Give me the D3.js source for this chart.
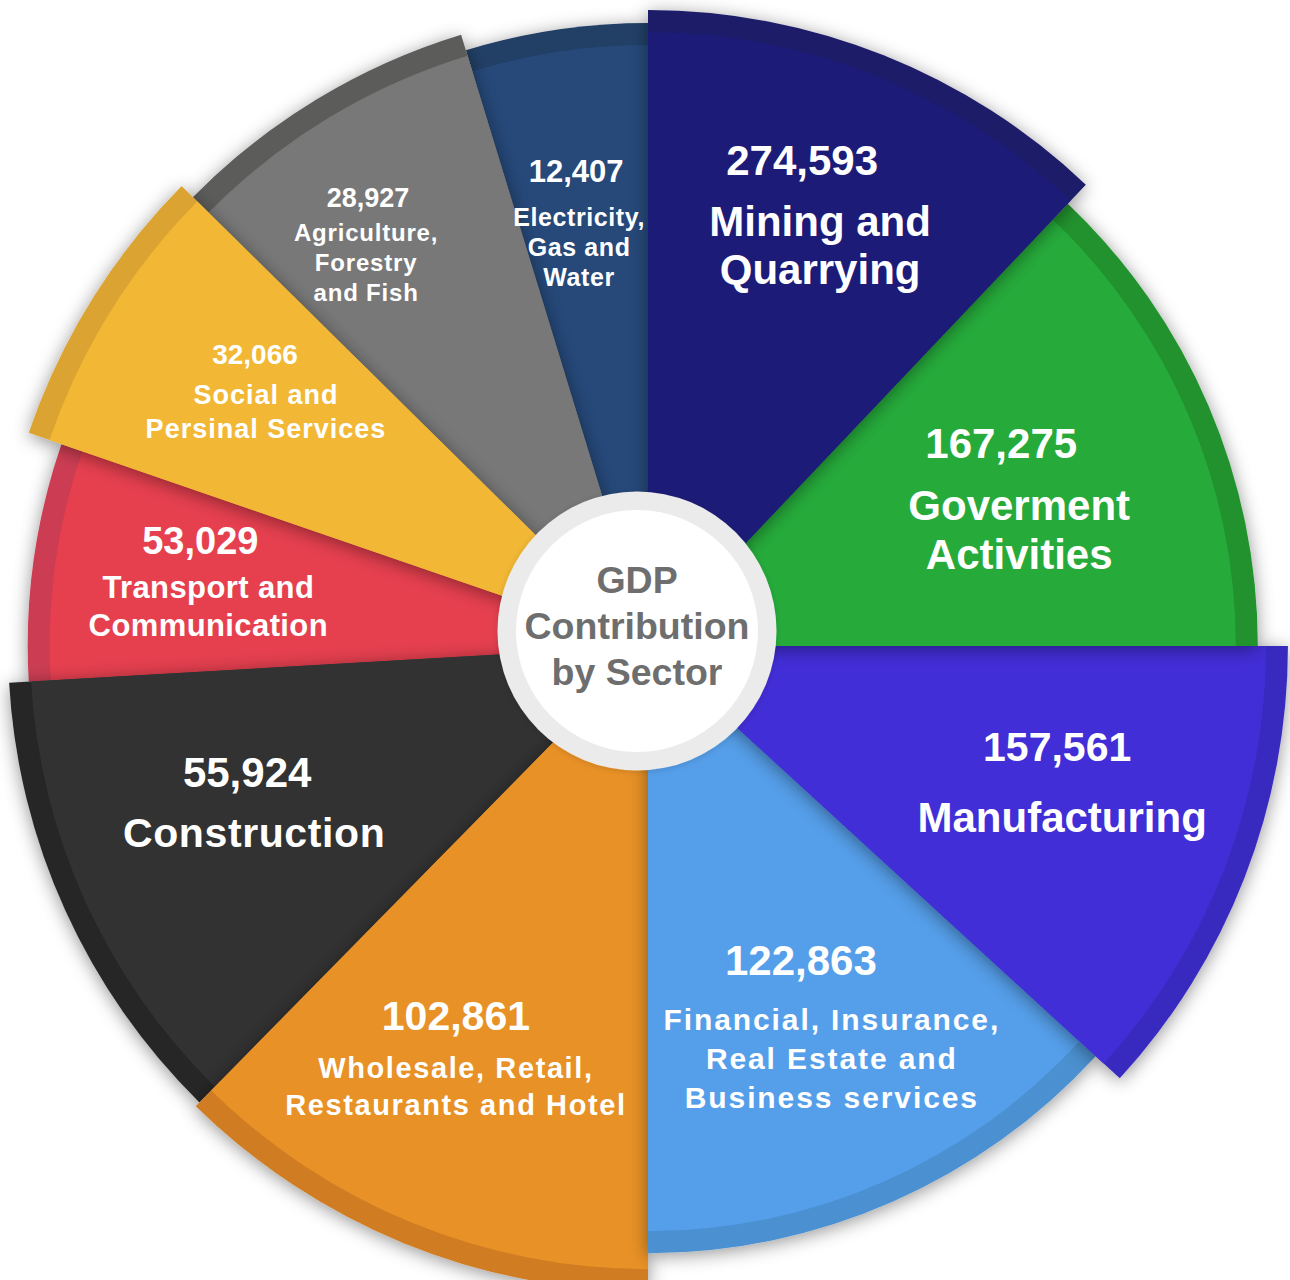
<!DOCTYPE html>
<html>
<head>
<meta charset="utf-8">
<script src="https://cdn.jsdelivr.net/npm/d3@7"></script>
<style>
  html, body { margin: 0; padding: 0; background: #ffffff; }
  svg { display: block; }
</style>
</head>
<body>
<svg id="chart" width="1290" height="1280"></svg>
<script>
// ---- data ----
const sectors = [
  "Mining and Quarrying",
  "Goverment Activities",
  "Manufacturing",
  "Financial, Insurance, Real Estate and Business services",
  "Wholesale, Retail, Restaurants and Hotel",
  "Construction",
  "Transport and Communication",
  "Social and Persinal Services",
  "Agriculture, Forestry and Fish",
  "Electricity, Gas and Water"
];
const gdpValues = [274593, 167275, 157561, 122863, 102861, 55924, 53029, 32066, 28927, 12407];
// angular share of each wedge, in degrees of the full turn
const arcDegrees = [43.5, 46.5, 42.5, 47.5, 44.5, 42.2, 22.3, 25.6, 28.4, 17];
// relative outer reach of each wedge (1 = longest wedge)
const reach = [0.971, 0.931, 0.977, 0.927, 0.985, 0.977, 0.947, 1.0, 0.976, 0.951];
const nameLines = [
  ["Mining and", "Quarrying"],
  ["Goverment", "Activities"],
  ["Manufacturing"],
  ["Financial, Insurance,", "Real Estate and", "Business services"],
  ["Wholesale, Retail,", "Restaurants and Hotel"],
  ["Construction"],
  ["Transport and", "Communication"],
  ["Social and", "Persinal Services"],
  ["Agriculture,", "Forestry", "and Fish"],
  ["Electricity,", "Gas and", "Water"]
];
const centerTitle = ["GDP", "Contribution", "by Sector"];

// ---- styles ----
const fills = ["#1f1c78", "#27ab3b", "#422fd6", "#559ee9", "#e89127", "#323232", "#e63f50", "#f2b836", "#787878", "#27497a"];
const rims  = ["#1c1a68", "#20922e", "#392cbf", "#4b90d0", "#d07c22", "#272727", "#cc3c52", "#dba432", "#5b5c5a", "#223f66"];

// label placement: polar anchor of the value line (deg, px from hub), name offsets and type sizes
const labelLayout = [
  { turn: 18.1,  dist: 496, nameDx: 18, gap: 61, lineH: 48, vSize: 42, nSize: 42, ls: 0 },
  { turn: 62.0,  dist: 400, nameDx: 18, gap: 62, lineH: 49, vSize: 42, nSize: 42, ls: 0 },
  { turn: 105.7, dist: 425, nameDx: 5,  gap: 71, lineH: 48, vSize: 41, nSize: 42, ls: 0 },
  { turn: 155.1, dist: 363, nameDx: 31, gap: 55, lineH: 39, vSize: 42, nSize: 30, ls: 1.9 },
  { turn: 206.6, dist: 429, nameDx: 0,  gap: 48, lineH: 37, vSize: 41, nSize: 29, ls: 1.6 },
  { turn: 250.6, dist: 425, nameDx: 7,  gap: 60, lineH: 48, vSize: 42, nSize: 41, ls: 0.6 },
  { turn: 281.6, dist: 457, nameDx: 8,  gap: 44, lineH: 38, vSize: 38, nSize: 31, ls: 0.4 },
  { turn: 305.7, dist: 484, nameDx: 11, gap: 40, lineH: 34, vSize: 28, nSize: 27, ls: 1.0 },
  { turn: 327.5, dist: 521, nameDx: -2, gap: 34, lineH: 30, vSize: 27, nSize: 24, ls: 0.8 },
  { turn: 351.2, dist: 470, nameDx: 3,  gap: 44, lineH: 30, vSize: 31, nSize: 25, ls: 0.6 }
];

// stacking: later wedges cast their shadow over earlier ones
const drawOrder = [6, 5, 4, 3, 2, 1, 9, 8, 7, 0];

const W = 1290, H = 1280;
const hub = { x: 648, y: 646 };
const maxR = 655;
const rimWidth = 22;
const fontFamily = "'Liberation Sans', Arial, Helvetica, sans-serif";

const svg = d3.select("#chart").attr("viewBox", `0 0 ${W} ${H}`);

const defs = svg.append("defs");
const shadow = defs.append("filter")
  .attr("id", "wedgeShadow")
  .attr("x", "-30%").attr("y", "-30%")
  .attr("width", "160%").attr("height", "160%");
shadow.append("feDropShadow")
  .attr("dx", 0).attr("dy", 3)
  .attr("stdDeviation", 9)
  .attr("flood-color", "#000")
  .attr("flood-opacity", 0.42);

const discShadow = defs.append("filter")
  .attr("id", "discShadow")
  .attr("x", "-30%").attr("y", "-30%")
  .attr("width", "160%").attr("height", "160%");
discShadow.append("feDropShadow")
  .attr("dx", 0).attr("dy", 1)
  .attr("stdDeviation", 3)
  .attr("flood-color", "#000")
  .attr("flood-opacity", 0.15);

const rows = sectors.map((name, i) => ({
  name, value: gdpValues[i], span: arcDegrees[i], reach: reach[i], lines: nameLines[i], i
}));

const radius = d3.scaleLinear().domain([0, 1]).range([0, maxR]);
const pie = d3.pie().sort(null).value(d => d.span).startAngle(0).endAngle(2 * Math.PI);
const slices = pie(rows);

const outerArc = d3.arc().innerRadius(0).outerRadius(d => radius(d.data.reach));
const innerArc = d3.arc().innerRadius(0).outerRadius(d => radius(d.data.reach) - rimWidth);

const wedgeLayer = svg.append("g").attr("transform", `translate(${hub.x},${hub.y})`);

const ordered = drawOrder.map(i => slices[i]);
const wedges = wedgeLayer.selectAll("g.wedge")
  .data(ordered)
  .join("g")
  .attr("class", "wedge")
  .attr("filter", "url(#wedgeShadow)");

wedges.append("path")
  .attr("d", outerArc)
  .attr("fill", d => rims[d.data.i]);
wedges.append("path")
  .attr("d", innerArc)
  .attr("fill", d => fills[d.data.i]);

// ---- labels ----
const fmt = d3.format(",");
const labelLayer = svg.append("g")
  .attr("font-family", fontFamily)
  .attr("font-weight", "bold")
  .attr("fill", "#ffffff")
  .attr("text-anchor", "middle");

slices.forEach(s => {
  const L = labelLayout[s.data.i];
  const a = L.turn * Math.PI / 180;
  const x = hub.x + Math.sin(a) * L.dist;
  const y = hub.y - Math.cos(a) * L.dist;
  const g = labelLayer.append("g").attr("transform", `translate(${x},${y})`);
  g.append("text")
    .attr("x", 0).attr("y", 0)
    .attr("font-size", L.vSize)
    .text(fmt(s.data.value));
  s.data.lines.forEach((line, k) => {
    g.append("text")
      .attr("x", L.nameDx)
      .attr("y", L.gap + k * L.lineH)
      .attr("font-size", L.nSize)
      .attr("letter-spacing", L.ls)
      .text(line);
  });
});

// ---- central disc ----
const disc = { x: hub.x - 11, y: hub.y - 15, r: 139.5, inner: 121 };
const discG = svg.append("g").attr("transform", `translate(${disc.x},${disc.y})`);
discG.append("circle").attr("r", disc.r).attr("fill", "#ebebeb").attr("filter", "url(#discShadow)");
discG.append("circle").attr("r", disc.inner).attr("fill", "#ffffff");
discG.append("g")
  .attr("font-family", fontFamily)
  .attr("font-weight", "bold")
  .attr("font-size", 37.5)
  .attr("fill", "#6e6e6e")
  .attr("text-anchor", "middle")
  .selectAll("text")
  .data(centerTitle)
  .join("text")
  .attr("x", 0)
  .attr("y", (d, k) => -38 + k * 46)
  .text(d => d);
</script>
</body>
</html>
